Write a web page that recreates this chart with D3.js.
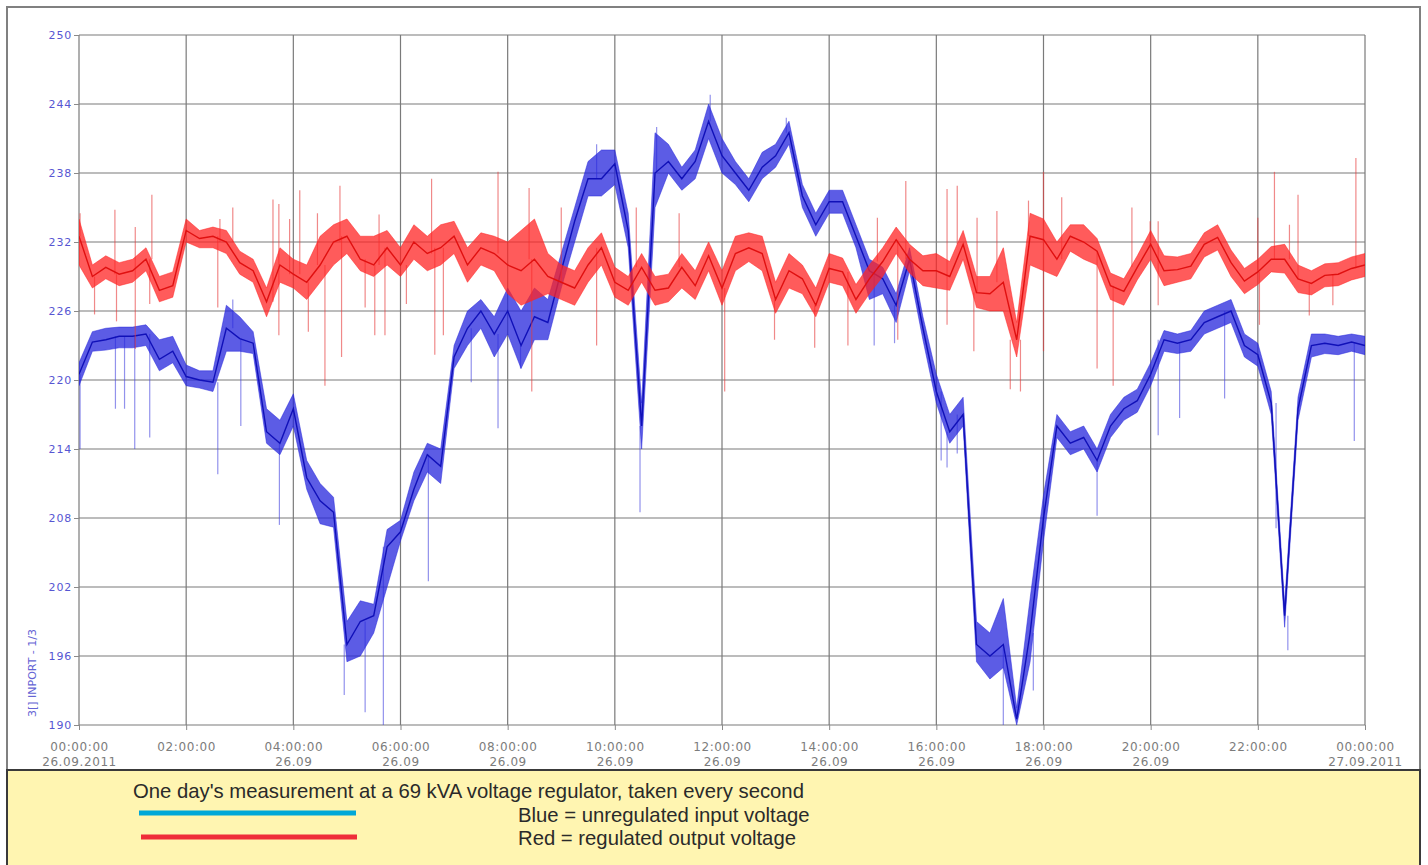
<!DOCTYPE html>
<html lang="en">
<head>
<meta charset="utf-8">
<title>Voltage regulator - one day</title>
<script src="https://d3js.org/d3.v7.min.js"></script>
<style>
    body { margin: 0; background: #fff; }
    svg text { font-family: "DejaVu Sans", sans-serif; }
    .legend text { font-family: "Liberation Sans", Arial, sans-serif; }
</style>
</head>
<body>
<div id="chart"></div>
<script>
    // tick labels
    var yTicks = [190, 196, 202, 208, 214, 220, 226, 232, 238, 244, 250];
    var xTicks = [0, 2, 4, 6, 8, 10, 12, 14, 16, 18, 20, 22, 24];
    var xLabelTime = ["00:00:00", "02:00:00", "04:00:00", "06:00:00", "08:00:00", "10:00:00", "12:00:00",
                      "14:00:00", "16:00:00", "18:00:00", "20:00:00", "22:00:00", "00:00:00"];
    var xLabelDate = ["26.09.2011", "", "26.09", "26.09", "26.09", "26.09", "26.09",
                      "26.09", "26.09", "26.09", "26.09", "", "27.09.2011"];

    // samples every 15 minutes, 00:00 .. 24:00 (hours)
    var hours = d3.range(0, 24.001, 0.25);

    // blue = unregulated input voltage (centre, lower and upper edge of the trace)
    var blueMid = [220.5,223.3,223.5,223.8, 223.8,224.0,221.8,222.5, 220.3,220.0,219.8,224.5,
                   223.6,223.2,215.5,214.5, 217.5,211.5,209.5,208.5, 197.0,199.0,199.5,205.5,
                   206.8,210.5,213.5,212.5, 222.0,224.5,226.0,224.0, 226.0,223.0,225.5,225.0,
                   229.5,233.8,237.5,237.5, 238.8,233.0,216.0,238.0, 239.0,237.5,239.0,242.5,
                   239.5,238.0,236.5,238.5, 239.5,241.5,236.0,233.5, 235.5,235.5,232.5,229.5,
                   228.8,226.5,230.5,224.5, 219.0,215.5,217.0,197.0, 196.0,197.0,190.5,198.0,
                   208.0,216.0,214.5,215.0, 213.0,216.0,217.5,218.2, 220.5,223.5,223.2,223.5,
                   225.0,225.5,226.0,223.0, 222.2,218.0,199.5,217.5, 223.0,223.2,223.0,223.3, 223.0];
    var blueLow = [219.5,222.5,222.6,222.8, 222.8,223.0,220.8,221.5, 219.5,219.3,219.0,222.5,
                   222.5,222.3,214.5,213.5, 216.0,210.5,207.5,207.2, 195.5,196.0,198.0,202.0,
                   206.0,209.5,212.0,211.0, 221.0,223.0,224.5,222.0, 224.0,221.0,223.5,223.5,
                   228.0,232.0,236.0,236.0, 237.0,231.5,214.0,235.0, 238.0,236.5,237.5,241.0,
                   238.0,237.0,235.5,237.5, 238.5,240.5,235.0,232.5, 234.5,234.5,231.5,227.0,
                   227.5,225.0,229.5,223.5, 218.0,214.5,216.0,195.5, 194.0,195.0,190.0,195.5,
                   206.0,215.0,213.5,214.0, 212.0,215.0,216.5,217.2, 219.5,222.5,222.3,222.5,
                   224.0,224.5,225.0,222.0, 221.2,217.0,198.5,216.5, 222.0,222.3,222.2,222.5, 222.2];
    var blueHigh = [221.5,224.2,224.5,224.6, 224.6,224.8,223.5,223.8, 221.3,220.8,220.8,226.5,
                    225.5,224.2,217.5,216.5, 218.8,213.0,211.0,209.8, 199.0,200.8,200.5,207.0,
                    207.8,212.0,214.5,214.0, 223.0,226.0,227.0,225.5, 228.0,226.0,228.0,227.0,
                    231.0,235.0,239.0,240.0, 240.0,234.5,218.0,241.5, 240.5,238.5,240.0,244.0,
                    241.0,239.0,237.5,239.8, 240.5,242.5,237.0,234.5, 236.5,236.5,233.5,230.5,
                    229.8,227.5,231.5,225.5, 220.5,217.0,218.5,199.0, 198.0,201.0,191.5,201.0,
                    210.0,217.0,215.5,216.0, 214.0,217.0,218.5,219.2, 221.5,224.3,224.0,224.3,
                    226.0,226.5,227.0,224.0, 223.2,219.0,200.5,218.5, 224.0,224.0,223.8,224.0, 223.8];
    // short excursions of the input voltage [hour, volts]
    var blueSpikes = [[0.02,214],[0.68,217.5],[0.85,217.5],[1.04,214],[1.32,215],[2.59,211.8],[2.87,227],
                      [3.02,216],[3.74,207.4],[4.95,192.6],[5.34,191.1],[5.68,190],[6.52,202.5],[7.32,219.8],
                      [7.82,215.8],[8.24,221],[9.66,240.5],[10.47,208.5],[10.78,242],[11.78,244.8],[13.2,242.8],
                      [14.84,223],[15.22,223.2],[16.09,213],[16.2,212.4],[16.39,213.6],[17.25,190],[17.81,193],
                      [19.0,208.2],[20.14,215.2],[20.54,216.7],[21.38,218.4],[22.34,207.1],[22.56,196.5],[23.8,214.7]];

    // red = regulated output voltage
    var redMid = [232.5,229.0,229.8,229.2, 229.5,230.5,227.8,228.2, 233.0,232.3,232.5,232.0,
                  230.2,229.5,226.8,230.0, 229.2,228.5,230.0,232.0, 232.5,230.5,230.0,231.5,
                  230.0,232.0,231.0,231.5, 232.5,230.0,231.5,231.0, 230.0,229.5,230.5,229.0,
                  228.5,228.0,230.0,231.5, 228.5,227.8,229.8,227.8, 228.0,229.8,228.2,230.8,
                  228.0,231.0,231.5,231.0, 227.0,229.5,228.8,226.5, 229.7,229.4,227.0,228.8,
                  230.3,232.2,230.5,229.5, 229.5,229.0,231.8,227.6, 227.5,228.5,223.5,232.5,
                  232.2,230.5,232.5,232.0, 231.2,228.2,227.7,229.8, 231.8,229.5,229.6,229.9,
                  231.8,232.4,230.2,228.6, 229.4,230.5,230.5,228.8, 228.4,229.1,229.2,229.7, 230.0];
    var redLow = [230.0,228.0,228.8,228.2, 228.5,229.5,226.8,227.2, 232.0,231.5,231.5,231.0,
                  229.2,228.5,225.5,228.5, 228.0,227.0,228.5,230.0, 231.0,229.5,229.0,230.0,
                  229.0,230.5,229.5,230.0, 231.0,228.5,230.0,229.5, 227.5,226.5,227.0,227.5,
                  227.0,226.5,228.5,230.0, 227.2,226.5,228.5,226.5, 226.8,228.0,227.0,229.5,
                  226.5,229.5,230.3,229.5, 225.8,228.0,227.5,225.5, 228.5,228.2,225.8,227.5,
                  229.0,231.0,229.3,228.2, 228.0,227.8,230.5,226.3, 226.0,226.0,222.0,230.0,
                  229.5,229.0,231.2,230.5, 230.0,227.0,226.5,228.7, 230.5,228.2,228.5,228.8,
                  230.7,231.3,229.0,227.5, 228.3,229.4,229.3,227.6, 227.4,228.1,228.2,228.7, 229.0];
    var redHigh = [234.0,230.0,230.8,230.2, 230.5,231.5,229.0,229.4, 234.0,233.0,233.3,233.0,
                   231.2,230.5,228.0,231.5, 230.5,230.0,232.5,233.5, 234.0,232.5,232.5,233.0,
                   231.5,233.5,232.5,233.5, 233.8,231.5,232.8,232.5, 232.0,233.0,234.0,231.0,
                   230.0,229.5,231.5,232.8, 229.8,229.0,231.0,229.0, 229.2,231.0,229.5,232.0,
                   229.5,232.5,232.8,232.5, 228.5,231.0,230.0,228.0, 231.0,230.6,228.3,230.0,
                   231.5,233.3,231.8,230.8, 231.0,230.3,233.0,229.0, 229.0,231.5,225.0,234.5,
                   234.0,232.0,233.5,233.5, 232.3,229.3,228.8,230.8, 233.0,230.8,230.7,231.0,
                   232.8,233.5,231.3,229.7, 230.5,231.6,231.8,230.0, 229.5,230.1,230.2,230.7, 231.0];
    var redSpikes = [[0.02,234.5],[0.67,234.8],[1.05,233.3],[1.36,236.1],[2.63,234],[2.87,235],[3.62,235.7],
                     [3.73,235.3],[3.93,234],[4.12,236.5],[4.45,234.5],[4.87,236.9],[5.6,234.4],[6.58,237.5],
                     [7.82,238.1],[8.4,236.7],[9.0,235],[10.4,235],[11.2,234.5],[14.9,234.1],[15.43,237.3],
                     [16.2,236.6],[16.39,236.9],[16.76,234.1],[17.13,234.7],[17.72,235.6],[18.0,238.1],
                     [18.34,235.9],[19.65,235],[19.99,233.8],[20.14,233.8],[22.0,234.1],[22.31,238.1],
                     [22.59,233.5],[22.75,236.1],[23.83,239.3],
                     [0.29,225.7],[0.7,225.1],[1.05,222.7],[1.32,226.6],[2.59,226.3],[3.73,223.9],[4.28,224.2],
                     [4.59,219.5],[4.9,222],[5.34,226.3],[5.52,223.9],[5.71,223.9],[6.11,226.6],[6.64,222.2],
                     [6.8,223.9],[8.45,219],[9.66,223],[12.05,219],[12.98,223.5],[13.73,222.8],[14.35,223],
                     [15.28,223.5],[16.2,224.8],[16.7,222.5],[17.38,219.2],[17.57,219],[18.0,222.5],[19.0,221],
                     [19.3,219.5],[20.14,226.5],[22.03,224.8],[22.96,225.6],[23.4,226.5]];

    var width = 1428, height = 865;
    var plot = {left: 79, right: 1365, top: 35, bottom: 725};

    var x = d3.scaleLinear().domain([0, 24]).range([plot.left, plot.right]);
    var y = d3.scaleLinear().domain([190, 250]).range([plot.bottom, plot.top]);

    var svg = d3.select("#chart").append("svg")
        .attr("width", width)
        .attr("height", height);

    svg.append("defs").append("clipPath")
        .attr("id", "plotClip")
        .append("rect")
        .attr("x", plot.left).attr("y", plot.top)
        .attr("width", plot.right - plot.left).attr("height", plot.bottom - plot.top);

    // outer frame
    svg.append("rect")
        .attr("x", 7).attr("y", 7)
        .attr("width", 1413).attr("height", 870)
        .attr("fill", "#fff")
        .attr("stroke", "#808080")
        .attr("stroke-width", 2);

    // grid
    var grid = svg.append("g").attr("class", "grid");
    grid.selectAll(".hgrid")
        .data(yTicks)
        .enter().append("line")
        .attr("x1", plot.left).attr("x2", plot.right)
        .attr("y1", function(d) { return y(d); })
        .attr("y2", function(d) { return y(d); })
        .attr("stroke", "#7a7a7a")
        .attr("stroke-width", 1.2);
    grid.selectAll(".vgrid")
        .data(xTicks)
        .enter().append("line")
        .attr("x1", function(d) { return x(d); })
        .attr("x2", function(d) { return x(d); })
        .attr("y1", plot.top).attr("y2", plot.bottom)
        .attr("stroke", "#7a7a7a")
        .attr("stroke-width", 1.2);

    // axes
    var yAxis = svg.append("g")
        .attr("transform", "translate(" + plot.left + ",0)")
        .call(d3.axisLeft(y).tickValues(yTicks).tickSize(5).tickPadding(2).tickFormat(d3.format("d")));
    yAxis.select(".domain").remove();
    yAxis.selectAll(".tick line").attr("stroke", "#8a8a8a");
    yAxis.selectAll(".tick text")
        .attr("fill", "#5656d2")
        .style("font-size", "11px")
        .style("letter-spacing", "0.8px");

    var xAxis = svg.append("g")
        .attr("transform", "translate(0," + plot.bottom + ")")
        .call(d3.axisBottom(x).tickValues(xTicks).tickSize(5).tickFormat(""));
    xAxis.select(".domain").remove();
    xAxis.selectAll(".tick line").attr("stroke", "#8a8a8a");
    xAxis.selectAll(".tick").each(function(d, i) {
        var t = d3.select(this).append("text")
            .attr("fill", "#7c7c7c")
            .attr("text-anchor", "middle")
            .style("font-size", "12px")
            .style("letter-spacing", "0.6px");
        t.append("tspan").attr("x", 0).attr("y", 26).text(xLabelTime[i]);
        t.append("tspan").attr("x", 0).attr("y", 41).text(xLabelDate[i]);
    });

    svg.append("text")
        .attr("transform", "translate(36,673) rotate(-90)")
        .attr("text-anchor", "middle")
        .attr("fill", "#6464d4")
        .style("font-size", "11px")
        .text("3[] INPORT - 1/3");

    // data traces
    var traces = svg.append("g").attr("clip-path", "url(#plotClip)");

    function rowsOf(mid, low, high) {
        return hours.map(function(h, i) {
            return {h: h, mid: mid[i], lo: low[i], hi: high[i]};
        });
    }

    function drawTrace(rows, spikes, color, bandColor, spikeColor) {
        var g = traces.append("g");
        g.selectAll(".spike")
            .data(spikes)
            .enter().append("line")
            .attr("x1", function(d) { return x(d[0]); })
            .attr("x2", function(d) { return x(d[0]); })
            .attr("y1", function(d) { return y(rows[Math.round(d[0] * 4)].mid); })
            .attr("y2", function(d) { return y(d[1]); })
            .attr("stroke", spikeColor)
            .attr("stroke-width", 1.2)
            .attr("stroke-opacity", 0.6);
        g.append("path")
            .datum(rows)
            .attr("d", d3.area()
                .x(function(d) { return x(d.h); })
                .y0(function(d) { return y(d.lo); })
                .y1(function(d) { return y(d.hi); }))
            .attr("fill", bandColor)
            .attr("fill-opacity", 0.75)
            .attr("stroke", bandColor)
            .attr("stroke-opacity", 0.5)
            .attr("stroke-width", 1);
        g.append("path")
            .datum(rows)
            .attr("d", d3.line()
                .x(function(d) { return x(d.h); })
                .y(function(d) { return y(d.mid); }))
            .attr("fill", "none")
            .attr("stroke", color)
            .attr("stroke-width", 1.4);
    }

    drawTrace(rowsOf(blueMid, blueLow, blueHigh), blueSpikes, "#1010b8", "#2626dc", "#4a4ae0");
    drawTrace(rowsOf(redMid, redLow, redHigh), redSpikes, "#e01010", "#ff2424", "#e63a3a");

    // caption box
    var legend = svg.append("g").attr("class", "legend");
    legend.append("rect")
        .attr("x", 7).attr("y", 770)
        .attr("width", 1413).attr("height", 110)
        .attr("fill", "#fff5b1")
        .attr("stroke", "#3a3a3a")
        .attr("stroke-width", 2);
    legend.append("line")
        .attr("x1", 139).attr("x2", 356).attr("y1", 813).attr("y2", 813)
        .attr("stroke", "#00a8d8").attr("stroke-width", 5);
    legend.append("line")
        .attr("x1", 141).attr("x2", 357).attr("y1", 837).attr("y2", 837)
        .attr("stroke", "#ef2d39").attr("stroke-width", 5);
    legend.append("text")
        .attr("x", 133).attr("y", 798)
        .attr("fill", "#2a2a2a")
        .style("font-size", "20.3px")
        .text("One day's measurement at a 69 kVA voltage regulator, taken every second");
    legend.append("text")
        .attr("x", 518).attr("y", 822)
        .attr("fill", "#2a2a2a")
        .style("font-size", "20.3px")
        .text("Blue = unregulated input voltage");
    legend.append("text")
        .attr("x", 518).attr("y", 845)
        .attr("fill", "#2a2a2a")
        .style("font-size", "20.3px")
        .text("Red = regulated output voltage");
</script>
</body>
</html>
